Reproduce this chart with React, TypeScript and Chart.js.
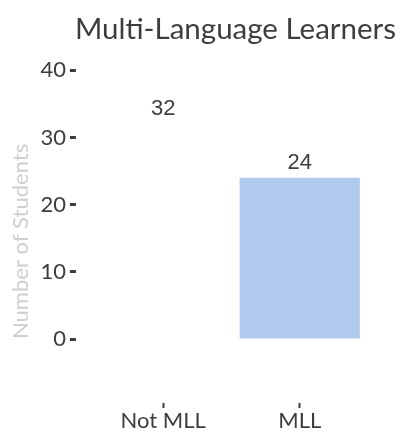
import React, { useEffect, useRef } from "react";
import { Chart, registerables } from "chart.js";

Chart.register(...registerables);

const categories: string[] = ["Not MLL", "MLL"];
const studentCounts: number[] = [32, 24];
const yTickValues: number[] = [0, 10, 20, 30, 40];
const chartTitle = "Multi-Language Learners";
const yAxisTitle = "Number of Students";

const barColors = ["rgba(255,255,255,0)", "#b0caed"];
const textDark = "#3d3d3d";

const valueLabelPlugin = {
  id: "valueLabels",
  afterDatasetsDraw(chart: any) {
    const { ctx } = chart;
    const meta = chart.getDatasetMeta(0);
    ctx.save();
    ctx.font = "22px 'Liberation Sans', Arial, sans-serif";
    ctx.fillStyle = textDark;
    ctx.textAlign = "center";
    ctx.textBaseline = "bottom";
    meta.data.forEach((bar: any, i: number) => {
      const v = chart.data.datasets[0].data[i];
      ctx.fillText(String(v), bar.x, bar.y - 4);
    });
    ctx.restore();
  },
};

export default function App() {
  const canvasRef = useRef<HTMLCanvasElement | null>(null);

  useEffect(() => {
    if (!canvasRef.current) return;
    const chart = new Chart(canvasRef.current, {
      type: "bar",
      data: {
        labels: categories,
        datasets: [
          {
            data: studentCounts,
            backgroundColor: barColors,
            borderWidth: 0,
            categoryPercentage: 1,
            barPercentage: 0.88,
          },
        ],
      },
      options: {
        animation: false,
        responsive: false,
        layout: { padding: { left: 8, right: 9, top: 0, bottom: 5 } },
        plugins: {
          legend: { display: false },
          tooltip: { enabled: false },
          title: {
            display: true,
            text: chartTitle,
            align: "end",
            color: textDark,
            font: { family: "Lato", size: 29.5, weight: "normal" },
            padding: { top: 12, bottom: 23 },
          },
        },
        scales: {
          x: {
            border: { display: false },
            grid: {
              display: true,
              drawOnChartArea: false,
              drawTicks: true,
              offset: false,
              tickLength: 71,
              tickWidth: 2,
              tickColor: textDark,
              tickBorderDash: [0, 64, 5, 200],
            },
            ticks: {
              color: textDark,
              padding: 0,
              font: { family: "Lato", size: 22, lineHeight: 1 },
            },
          },
          y: {
            min: 0,
            max: 40,
            border: { display: false },
            grid: {
              display: true,
              drawOnChartArea: false,
              drawTicks: true,
              tickLength: 25,
              tickWidth: 3,
              tickColor: textDark,
              tickBorderDash: [6, 200],
            },
            afterBuildTicks(scale: any) {
              scale.ticks = yTickValues.map((v) => ({ value: v }));
            },
            ticks: {
              color: textDark,
              padding: 4,
              font: { family: "Lato", size: 22 },
            },
            title: {
              display: true,
              text: yAxisTitle,
              align: "start",
              color: "#cfcfcf",
              font: { family: "Lato", size: 22 },
              padding: { top: 0, bottom: 2 },
            },
          },
          rightGap: {
            type: "linear",
            position: "right",
            display: true,
            border: { display: false },
            grid: { display: false, drawTicks: false },
            ticks: { display: false },
            afterFit(scale: any) {
              scale.width = 28;
            },
          },
        },
      },
      plugins: [valueLabelPlugin],
    });
    return () => chart.destroy();
  }, []);

  return (
    <div style={{ width: "405px", height: "437px", margin: "-8px" }}>
      <canvas ref={canvasRef} width={405} height={437} style={{ display: "block", width: "405px", height: "437px" }} />
    </div>
  );
}
